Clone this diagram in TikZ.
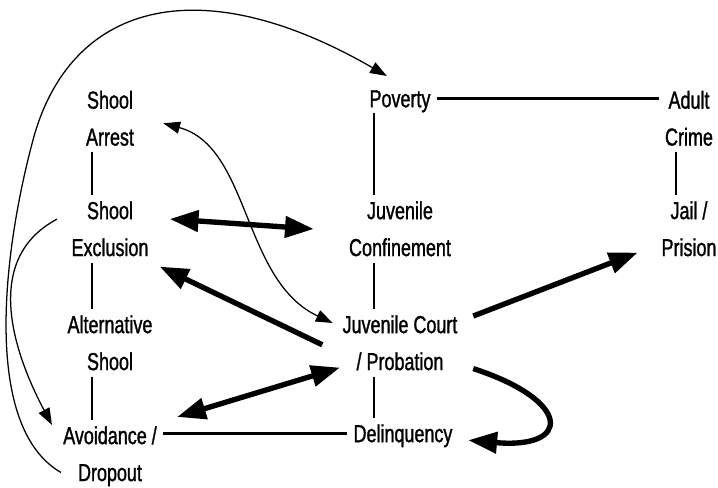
\documentclass[tikz,border=0pt]{standalone}
\usepackage{fontspec}
\setmainfont{Liberation Sans}[FakeStretch=0.73,FakeBold=1.2]
\usetikzlibrary{arrows.meta}

\begin{document}
\begin{tikzpicture}[
		box/.style={anchor=north, align=center, inner sep=0.15cm, font=\fontsize{17.5}{26.3}\selectfont},
		link/.style={line width=2pt},
		bigarrow/.style={line width=3.8pt, -{Triangle[length=0.72cm,width=0.52cm]}},
		bigboth/.style={line width=3.8pt, {Triangle[length=0.72cm,width=0.52cm]}-{Triangle[length=0.72cm,width=0.52cm]}},
		thinarrow/.style={line width=0.9pt, -{Triangle[length=0.42cm,width=0.3cm]}},
		thinboth/.style={line width=0.9pt, {Triangle[length=0.42cm,width=0.3cm]}-{Triangle[length=0.42cm,width=0.3cm]}}
	]
			\useasboundingbox (0,0) rectangle (17.95,12.175);
			
			%%%%% left column %%%%%
			\node[box] (arrest) at (2.75, 10.0625) {Shool\\Arrest};
			\node[box] (exclusion) at (2.75, 7.3) {Shool\\Exclusion};
			\node[box] (altschool) at (2.75, 4.45) {Alternative\\Shool};
			\node[box] (avoid) at (2.75, 1.675) {Avoidance /\\Dropout};
			
			%%%%% middle column %%%%%
			\node[box, text depth=0pt] (poverty) at (10, 10.075) {Poverty};
			\node[box] (confine) at (10, 7.3) {Juvenile\\Confinement};
			\node[box] (court) at (10, 4.45) {Juvenile Court\\/ Probation};
			\node[box, text depth=0pt] (delinq) at (10.075, 1.725) {Delinquency};
			
			%%%%% right column %%%%%
			\node[box] (adult) at (17.225, 10.0625) {Adult\\Crime};
			\node[box] (jail) at (17.225, 7.3) {Jail /\\Prision};
			
			%%%%% plain links %%%%%
			\draw[link] ([xshift=-4.5mm]arrest.south) -- ([xshift=-4.5mm]exclusion.north);
			\draw[link] ([xshift=-4.5mm]exclusion.south) -- ([xshift=-4.5mm]altschool.north);
			\draw[link] ([xshift=-4.5mm]altschool.south) -- ([xshift=-4.5mm]avoid.north);
			\draw[link] ([xshift=-6.5mm]poverty.south) -- ([xshift=-6.5mm]confine.north);
			\draw[link] ([xshift=-6.5mm]confine.south) -- ([xshift=-6.5mm]court.north);
			\draw[link] ([xshift=-6.5mm]court.south) -- ([xshift=-6.5mm]court.south |- delinq.north);
			\draw[link] ([xshift=-3.25mm]adult.south) -- ([xshift=-3.25mm]jail.north);
			\draw[link] (poverty.east) -- (poverty.east -| adult.west);
			\draw[link] (delinq.west) -- (delinq.west -| avoid.east);
			
			%%%%% thick arrows %%%%%
			\draw[bigboth] ([shift={(0.375,-0.6)}]exclusion.north east) -- ([shift={(-0.725,-0.85)}]confine.north west);
			\draw[bigarrow] ([shift={(-0.35,-0.05)}]court.west) -- ([shift={(0.125,-0.1)}]exclusion.south east);
			\draw[bigboth] ([shift={(0.35,0.075)}]avoid.north east) -- ([shift={(0.09,0.225)}]court.south west);
			\draw[bigarrow] ([shift={(0.24,-0.175)}]court.north east) -- ([shift={(-0.44,0.25)}]jail.south west);
			\draw[bigarrow] ([shift={(0.24,0.2)}]court.south east) .. controls +(-18:2.6) and +(-5:2.6) .. ([shift={(0.24,-0.175)}]delinq.east);
			
			%%%%% thin arrows %%%%%
			\draw[thinboth] ([shift={(0.575,-0.125)}]arrest.east) .. controls +(-15:2.25) and +(155:2.5) .. ([shift={(-0.09,-0.35)}]court.north west);
			\draw[thinarrow] ([shift={(-0.21,0.24)}]exclusion.west) .. controls +(208:2.1) and +(118:2.1) .. ([shift={(-0.125,-0.125)}]avoid.north west);
			\coordinate (bend) at (0.825, 8.675);
			\draw[thinarrow] ([shift={(0.1,0.5)}]avoid.south west) .. controls +(150:2.25) and +(255:3) .. (bend) .. controls +(75:3.5) and +(150:5.5) .. ([shift={(0.59,0.2)}]poverty.north west);
			
		\end{tikzpicture}
\end{document}
